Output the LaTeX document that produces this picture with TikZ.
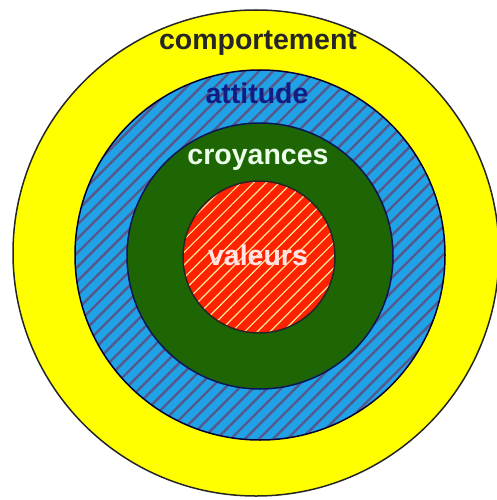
\documentclass[tikz,border=0pt]{standalone}
\usepackage{fontspec}
\setmainfont{Liberation Sans}
\usetikzlibrary{patterns.meta}

\definecolor{ringyellow}{RGB}{255,255,0}
\definecolor{ringblue}{RGB}{32,162,230}
\definecolor{ringgreen}{RGB}{30,102,4}
\definecolor{ringred}{RGB}{255,34,0}
\definecolor{hatchblue}{RGB}{86,88,140}
\definecolor{hatchred}{RGB}{255,232,160}
\definecolor{labelnavy}{RGB}{18,28,130}

\tikzset{
  ring/.style={line width=1.5pt},
  lbl/.style={font=\fontsize{28.5}{30}\selectfont\bfseries, inner sep=0pt}
}

\begin{document}
\begin{tikzpicture}[x=1pt,y=-1pt]
\useasboundingbox (0,0) rectangle (496,500);
% outer ring: comportement
\fill[ringyellow] (256,253) circle (243);
\draw[ring,black!85] (256,253) circle (243);
% attitude ring, hatched
\fill[ringblue] (260,255) circle (185);
\fill[pattern={Lines[angle=45,distance=10pt,line width=2.4pt]},pattern color=hatchblue]
  (260,255) circle (185);
\draw[ring,black!80!blue] (260,255) circle (185);
% croyances ring
\fill[ringgreen] (260,256) circle (133);
\draw[ring,labelnavy!70!black] (260,256) circle (133);
% core: valeurs, hatched
\fill[ringred] (259,257) circle (76);
\fill[pattern={Lines[angle=45,distance=9pt,line width=1.2pt]},pattern color=hatchred]
  (259,257) circle (76);
\draw[ring,black!85] (259,257) circle (76);
% labels
\node[lbl,text=black!85]        (comp) at (258,43)  {comportement};
\node[lbl,text=labelnavy]       (att)  at (257,93)  {attitude};
\node[lbl,text=green!8!white]   (croy) at (258,160) {croyances};
\node[lbl,text=red!10!white]    (val)  at (258,255) {valeurs};
\end{tikzpicture}
\end{document}
